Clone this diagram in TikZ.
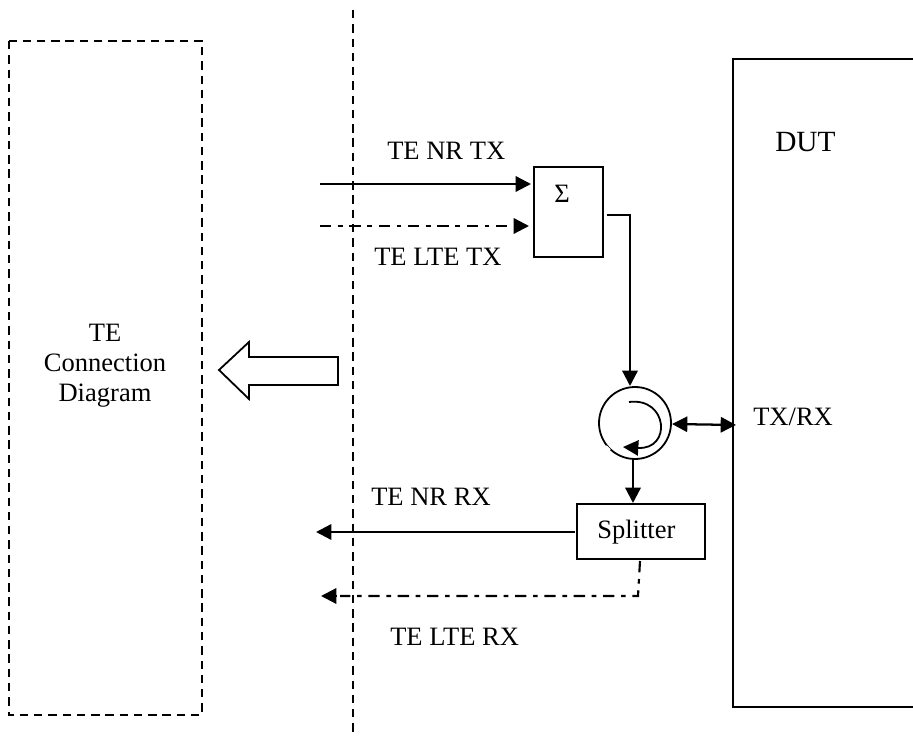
\documentclass[tikz,border=0pt]{standalone}
\usepackage{fontspec}
\setmainfont{Liberation Serif}
\usetikzlibrary{arrows.meta}
\tikzset{
  px/.style={x=0.75pt,y=-0.75pt},
  ln/.style={line width=1.7pt,black},
  tip/.tip={Triangle[length=11.5pt,width=11.5pt]},
  arr/.style={ln,-tip},
  dd/.style={line width=1.6pt,dash pattern=on 8.5pt off 5pt on 3.5pt off 5pt},
  vd/.style={line width=1.4pt,dash pattern=on 6.3pt off 4.4pt},
  boxed/.style={draw,line width=1.35pt,inner sep=0pt},
  lab/.style={font=\fontsize{19.9}{24}\selectfont,inner sep=0pt,anchor=base west},
}
\begin{document}
\begin{tikzpicture}[px]
\useasboundingbox (0,0) rectangle (913,737);
% dashed TE frame and reference plane
\draw[vd] (9,41) rectangle (202,715);
\coordinate (planetop) at (353,10);
\coordinate (planebot) at (353,733);
\draw[vd] (planetop) -- (planebot);
% DUT
\coordinate (duttr) at (913,59);
\coordinate (duttl) at (733,59);
\coordinate (dutbl) at (733,707);
\coordinate (dutbr) at (913,707);
\draw[line width=1.35pt] (duttr) -- (duttl) -- (dutbl) -- (dutbr);
% boxes
\node[boxed,minimum width=69*0.75pt,minimum height=90*0.75pt] (sum) at (568.5,212) {};
\node[lab,anchor=center] (sigma) at (562,194) {Σ};
\node[boxed,minimum width=128*0.75pt,minimum height=55*0.75pt] (split) at (641,531.5) {};
\node[lab] (splittxt) at (597,538) {Splitter};
\node[draw,circle,line width=1.35pt,minimum size=72*0.75pt,inner sep=0pt] (circ) at (635,423) {};
\coordinate (gapa) at (606,446);
\coordinate (gapb) at (610,450);
\draw[white,line width=1.5pt] (gapa) -- (gapb);
\coordinate (arcs) at (629,402);
\coordinate (arce) at (623,447);
\draw[line width=1.35pt,-tip] (arcs) .. controls (668,397) and (672,450) .. (arce);
% connectors
\coordinate (nrtx) at (320,184);
\coordinate (nrtxe) at (531,184);
\draw[arr] (nrtx) -- (nrtxe);
\coordinate (ltetx) at (320,226);
\coordinate (ltetxm) at (507,226);
\coordinate (ltetxh) at (514,226);
\coordinate (ltetxe) at (529,226);
\draw[dd] (ltetx) -- (ltetxm);
\draw[arr] (ltetxh) -- (ltetxe);
\coordinate (sumout) at (607,215);
\coordinate (sumcorner) at (630,215);
\coordinate (circin) at (630,386);
\draw[arr] (sumout) -- (sumcorner) -- (circin);
\coordinate (dutport) at (736,425);
\coordinate (circport) at (672,424);
\draw[ln,tip-tip] (circport) -- (dutport);
\coordinate (circout) at (633,460);
\coordinate (splitin) at (633,503);
\draw[arr] (circout) -- (splitin);
\coordinate (nrrxs) at (575,532);
\coordinate (nrrxe) at (316,532);
\draw[arr] (nrrxs) -- (nrrxe);
\coordinate (lters) at (640,561);
\coordinate (ltec) at (638,596);
\coordinate (ltem) at (340,596);
\coordinate (lteh) at (336,596);
\coordinate (ltee) at (321,596);
\draw[dd] (lters) -- (ltec) -- (ltem);
\draw[arr] (lteh) -- (ltee);
% block arrow
\draw[line width=1.35pt,fill=white] (338,357) -- (249,357) -- (249,342) -- (219,370) -- (249,399) -- (249,385) -- (338,385) -- cycle;
% labels
\node[lab] (l1) at (387,160) {TE NR TX};
\node[lab] (l2) at (374,266) {TE LTE TX};
\node[lab] (l3) at (371,505) {TE NR RX};
\node[lab] (l4) at (390,645) {TE LTE RX};
\node[lab,font=\fontsize{22}{26}\selectfont] (l5) at (775,152) {DUT};
\node[lab] (l6) at (753,426) {TX/RX};
\node[lab,anchor=base] (l7) at (105,342) {TE};
\node[lab,anchor=base] (l8) at (105,372) {Connection};
\node[lab,anchor=base] (l9) at (105,402) {Diagram};
\end{tikzpicture}
\end{document}
